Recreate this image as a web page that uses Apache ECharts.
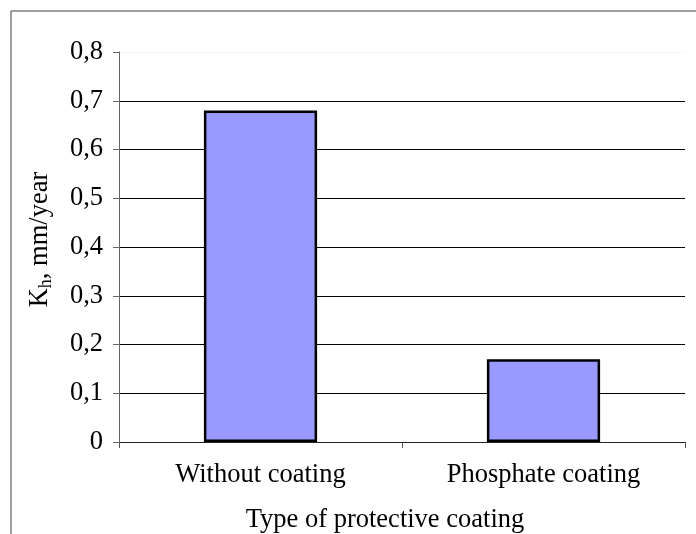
<!DOCTYPE html>
<html>
<head>
<meta charset="utf-8">
<script src="https://cdn.jsdelivr.net/npm/echarts@6/dist/echarts.min.js"></script>
<style>
html,body{margin:0;padding:0;background:#fff;}
#chart{width:696px;height:534px;}
</style>
</head>
<body>
<div id="chart"></div>
<script>
const categories = ['Without coating', 'Phosphate coating'];
const values = [0.68, 0.17];
const yTicks = ['0', '0,1', '0,2', '0,3', '0,4', '0,5', '0,6', '0,7', '0,8'];
const xTitle = 'Type of protective coating';

const FONT = '"Liberation Serif", "Times New Roman", serif';
const FS = 26.5;
const chart = echarts.init(document.getElementById('chart'));
chart.setOption({
  animation: false,
  backgroundColor: '#fff',
  graphic: [{
    type: 'rect',
    shape: { x: 11, y: 11, width: 720, height: 600 },
    style: { fill: 'none', stroke: '#404040', lineWidth: 1 },
    z: -1
  }],
  grid: { left: 119, right: 11, top: 52, bottom: 92, containLabel: false, outerBoundsMode: 'none' },
  xAxis: {
    type: 'category',
    data: categories,
    boundaryGap: true,
    axisLine: { lineStyle: { color: '#222', width: 1 } },
    axisTick: { show: true, length: 6, lineStyle: { color: '#555' } },
    axisLabel: { color: '#000', fontFamily: FONT, fontSize: FS, margin: 20 },
    name: xTitle,
    nameLocation: 'middle',
    nameGap: 65,
    nameTextStyle: { color: '#000', fontFamily: FONT, fontSize: FS, padding: [0, 34, 0, 0] }
  },
  yAxis: {
    type: 'value',
    min: 0,
    max: 0.8,
    interval: 0.1,
    axisLine: { show: true, lineStyle: { color: '#666', width: 1 } },
    axisTick: { show: true, length: 6, lineStyle: { color: '#666' } },
    axisLabel: {
      color: '#000', fontFamily: FONT, fontSize: FS, margin: 16,
      formatter: function (v) { return yTicks[Math.round(v * 10)]; }
    },
    splitLine: {
      show: true,
      lineStyle: { color: ['#000', '#000', '#000', '#000', '#000', '#000', '#000', '#000', '#f6f6f6'], width: 1 }
    },
    name: '{a|K}{b|h}{a|, mm/year}',
    nameLocation: 'middle',
    nameRotate: 90,
    nameGap: 64,
    nameTextStyle: {
      color: '#000', fontFamily: FONT, fontSize: FS, padding: [0, 0, 0, 15],
      rich: {
        a: { fontFamily: FONT, fontSize: FS, color: '#000' },
        b: { fontFamily: FONT, fontSize: 18, color: '#000', padding: [11, 0, 0, 0] }
      }
    }
  },
  series: [{
    type: 'bar',
    data: values,
    barWidth: '40%',
    itemStyle: { color: '#9999FF', borderColor: '#000', borderWidth: 2.5 }
  }]
});
</script>
</body>
</html>
